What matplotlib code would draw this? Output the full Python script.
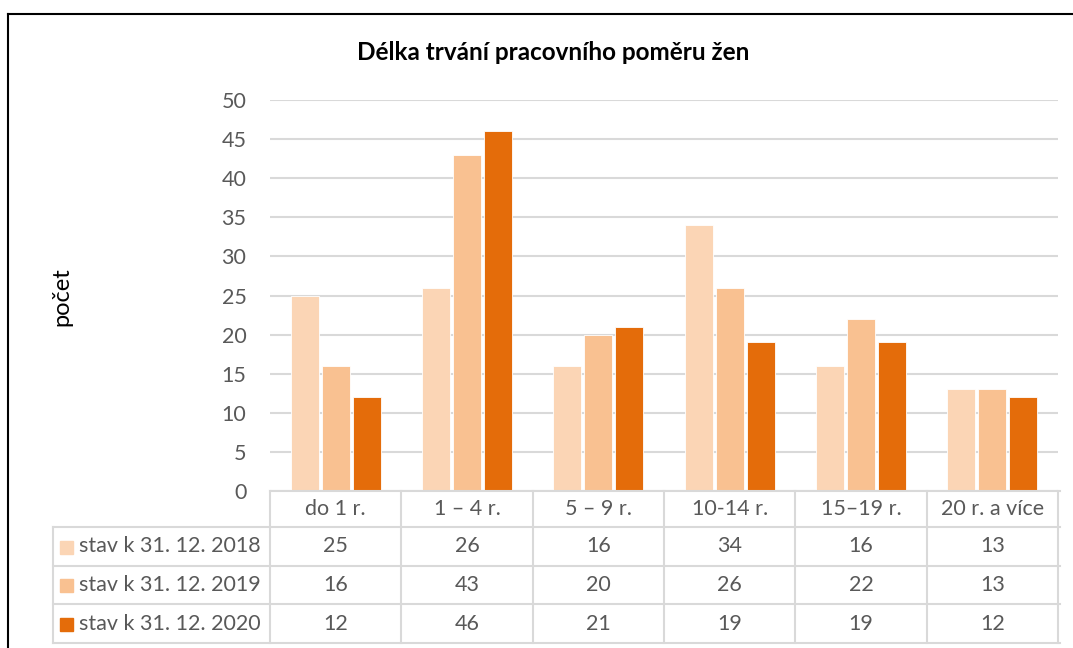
import matplotlib.pyplot as plt
import matplotlib.transforms as mtransforms
from matplotlib.lines import Line2D
from matplotlib.patches import Rectangle
import numpy as np

categories = ['do 1 r.', '1 – 4 r.', '5 – 9 r.', '10-14 r.', '15–19 r.', '20 r. a více']
series_names = ['stav k 31. 12. 2018', 'stav k 31. 12. 2019', 'stav k 31. 12. 2020']
v2018 = [25, 26, 16, 34, 16, 13]
v2019 = [16, 43, 20, 26, 22, 13]
v2020 = [12, 46, 21, 19, 19, 12]
colors = ['#FBD5B5', '#F9C191', '#E46C0A']

plt.rcParams['font.family'] = ['Lato', 'DejaVu Sans']
W, H = 1073, 648
txt = '#595959'
grid = '#D9D9D9'
fs = 15.5

fig = plt.figure(figsize=(W / 100, H / 100), dpi=100)

def fx(px):
    return px / W

def fy(py):
    return 1 - py / H

ax = fig.add_axes([fx(270), fy(491), fx(1058) - fx(270), fy(100) - fy(491)])
series = [v2018, v2019, v2020]
x = np.arange(len(categories)) + 0.5
offs = [-0.236, 0, 0.236]
for vals, off, c in zip(series, offs, colors):
    ax.bar(x + off, vals, width=0.215, color=c, edgecolor='white', linewidth=0.6, zorder=3)

ax.set_xlim(0, 6)
ax.set_ylim(0, 50)
ax.set_yticks(range(0, 51, 5))
ax.yaxis.grid(True, color=grid, linewidth=1.5, zorder=0)
ax.set_xticks([])
for s in ax.spines.values():
    s.set_visible(False)
ax.tick_params(axis='y', length=0, pad=17, labelsize=fs, labelcolor=txt)
fig.text(fx(62), fy(297), 'počet', rotation=90, ha='center', va='center', fontsize=17, color='black')

fig.text(fx(553), fy(53), 'Délka trvání pracovního poměru žen', ha='center', va='center',
         fontsize=17.5, fontweight='bold', color='black')

# data table under the plot
tr = mtransforms.blended_transform_factory(ax.transData, fig.transFigure)
rows_y = [491, 527, 566, 604, 643]
lw = 1.5
fig.add_artist(Line2D([fx(270), fx(1060)], [fy(491)] * 2, color=grid, lw=lw))
for yy in rows_y[1:]:
    fig.add_artist(Line2D([fx(53), fx(1060)], [fy(yy)] * 2, color=grid, lw=lw))
fig.add_artist(Line2D([fx(53), fx(53)], [fy(527), fy(643)], color=grid, lw=lw))
for i in range(7):
    ax.add_line(Line2D([i, i], [fy(491), fy(643)], transform=tr, color=grid, lw=lw, clip_on=False))

centers = [(a + b) / 2 for a, b in zip(rows_y[:-1], rows_y[1:])]
for i, cat in enumerate(categories):
    ax.text(x[i], fy(centers[0]), cat, transform=tr, ha='center', va='center', fontsize=fs, color=txt)
for r, (name, vals, c) in enumerate(zip(series_names, series, colors)):
    yc = centers[r + 1]
    fig.add_artist(Rectangle((fx(60), fy(yc + 7)), fx(13), 13 / H, color=c, transform=fig.transFigure))
    fig.text(fx(79), fy(yc), name, ha='left', va='center', fontsize=fs, color=txt)
    for i, v in enumerate(vals):
        ax.text(x[i], fy(yc), str(v), transform=tr, ha='center', va='center', fontsize=fs, color=txt)

# chart area border (top and left visible)
fig.add_artist(Line2D([fx(8), 1], [fy(14)] * 2, color='black', lw=1.5))
fig.add_artist(Line2D([fx(8), fx(8)], [fy(14), 0], color='black', lw=1.5))

fig.savefig('out.png', dpi=100)
